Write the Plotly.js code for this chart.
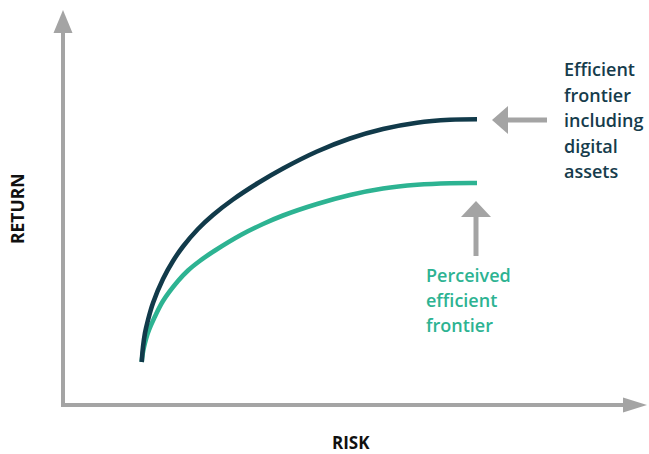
<!DOCTYPE html>
<html>
<head>
<meta charset="utf-8">
<script src="https://cdn.plot.ly/plotly-3.0.1.min.js"></script>
<style>html,body{margin:0;padding:0;background:#fff;}#chart{width:649px;height:454px;}</style>
</head>
<body>
<div id="chart"></div>
<script>
// Values in chart units (risk to the right of the origin, return above it)
const riskDigital = [78.7, 80, 82, 85, 90, 100, 110, 120, 135, 150, 170, 195, 220, 254, 287, 320, 354, 387, 414];
const returnDigital = [43, 58, 72, 85, 102, 126, 144, 158.5, 176, 190, 205.5, 222, 236.5, 253.5, 266.5, 276, 282.3, 285.2, 285.7];
const riskPerceived = [78.7, 79.5, 81, 83, 86, 91, 100, 115, 125, 136.7, 152, 178.7, 200, 220, 254, 287, 320, 354, 387, 414];
const returnPerceived = [43, 50, 58, 66, 75, 86.5, 104, 124, 134.5, 144, 154.5, 170.5, 181, 189.5, 201, 210, 216.5, 220.2, 221.8, 222];
const labelDigital = ["Efficient", "frontier", "including", "digital", "assets"];
const labelPerceived = ["Perceived", "efficient", "frontier"];
const xTitle = "RISK";
const yTitle = "RETURN";

const navy = "#113a4a";
const teal = "#2db392";
const gray = "#a4a4a4";
const font = "Open Sans, sans-serif";

const traces = [
  {x: riskPerceived, y: returnPerceived, mode: "lines", line: {color: teal, width: 4.6, shape: "spline", smoothing: 1}, hoverinfo: "skip"},
  {x: riskDigital, y: returnDigital, mode: "lines", line: {color: navy, width: 4.6, shape: "spline", smoothing: 1}, hoverinfo: "skip"}
];

const shapes = [
  // y axis arrow
  {type: "line", x0: 0, y0: -2, x1: 0, y1: 374, line: {color: gray, width: 4}},
  {type: "path", path: "M -9.5 372 L 0 395 L 9.5 372 Z", fillcolor: gray, line: {width: 0}},
  // x axis arrow
  {type: "line", x0: -2, y0: 0, x1: 562, y1: 0, line: {color: gray, width: 4}},
  {type: "path", path: "M 560 7.5 L 584 0 L 560 -7.5 Z", fillcolor: gray, line: {width: 0}},
  // arrow pointing at navy curve
  {type: "line", x0: 484, y0: 285, x1: 443, y1: 285, line: {color: gray, width: 5}},
  {type: "path", path: "M 445 299 L 429 285 L 445 271 Z", fillcolor: gray, line: {width: 0}},
  // arrow pointing at teal curve
  {type: "line", x0: 413, y0: 149, x1: 413, y1: 190, line: {color: gray, width: 5}},
  {type: "path", path: "M 398 188 L 413 204 L 428 188 Z", fillcolor: gray, line: {width: 0}}
];

const annotations = [];
labelDigital.forEach((t, i) => {
  annotations.push({x: 499, y: 336 - i * 25.6, xref: "x", yref: "y", text: t, showarrow: false,
    xanchor: "left", yanchor: "middle", font: {family: font, size: 18, weight: 600, color: "#163c4c"}});
});
labelPerceived.forEach((t, i) => {
  annotations.push({x: 361, y: 130 - i * 25, xref: "x", yref: "y", text: t, showarrow: false,
    xanchor: "left", yanchor: "middle", font: {family: font, size: 18, weight: 600, color: teal}});
});
annotations.push({x: 288, y: -37.5, xref: "x", yref: "y", text: xTitle, showarrow: false, borderpad: 0,
  xanchor: "center", yanchor: "middle", font: {family: font, size: 17, weight: 700, color: "#111"}});
annotations.push({x: -46, y: 196, xref: "x", yref: "y", text: yTitle, showarrow: false, textangle: -90, borderpad: 0,
  xanchor: "center", yanchor: "middle", font: {family: font, size: 17.5, weight: 700, color: "#111"}});

const layout = {
  width: 649, height: 454, autosize: false,
  margin: {l: 0, r: 0, t: 0, b: 0, pad: 0},
  paper_bgcolor: "#fff", plot_bgcolor: "#fff",
  showlegend: false,
  xaxis: {range: [-63, 586], visible: false, fixedrange: true},
  yaxis: {range: [-49, 405], visible: false, fixedrange: true},
  shapes: shapes,
  annotations: annotations
};

Plotly.newPlot("chart", traces, layout, {displayModeBar: false, staticPlot: true});
</script>
</body>
</html>
